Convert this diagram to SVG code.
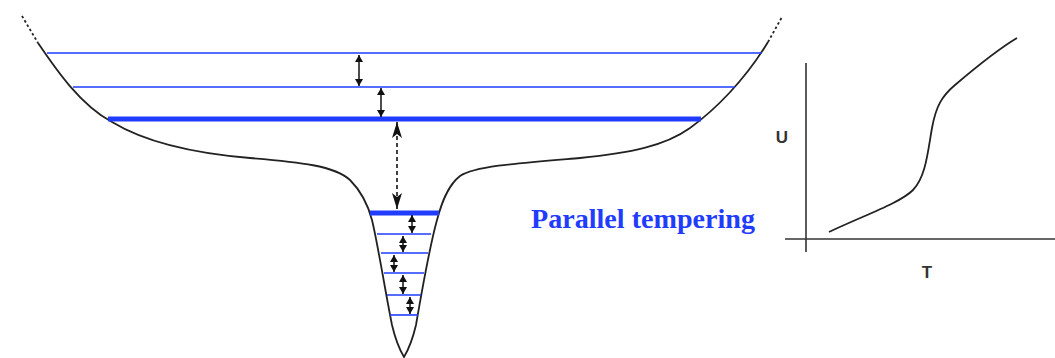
<svg xmlns="http://www.w3.org/2000/svg" width="1055" height="358" viewBox="0 0 1055 358">
<style>
.curve{fill:none;stroke:#222;stroke-width:1.8}
.dots{fill:none;stroke:#222;stroke-width:1.8;stroke-dasharray:2.5,2.5}
.lvl{stroke:#1f3cff;stroke-width:1.6}
.lvlb{stroke:#1f3cff;stroke-width:5}
.axis{stroke:#333;stroke-width:1.6}
.arr{stroke:#111;stroke-width:1.5;marker-start:url(#ah);marker-end:url(#ah)}
.darr{stroke:#111;stroke-width:1.6;stroke-dasharray:4,3;marker-start:url(#bh);marker-end:url(#bh)}
.lab{font-family:"Liberation Sans",Arial,sans-serif;font-weight:bold;font-size:17px;fill:#333}
.pt{font-family:"Liberation Serif","Times New Roman",serif;font-weight:bold;font-size:28px;fill:#1f3cff}
</style>
<defs>
<marker id="ah" viewBox="0 0 7 8" refX="7" refY="4" markerWidth="7" markerHeight="8" markerUnits="userSpaceOnUse" orient="auto-start-reverse"><path d="M0,0 L7,4 L0,8 z" fill="#111"/></marker>
<marker id="bh" viewBox="0 0 16 10" refX="16" refY="5" markerWidth="16" markerHeight="10" markerUnits="userSpaceOnUse" orient="auto-start-reverse"><path d="M0,0 L16,5 L0,10 L4,5 z" fill="#111"/></marker>
</defs>
<rect width="1055" height="358" fill="#fff"/>
<g id="landscape">
<path class="dots" d="M22,16 L38,43"/>
<path class="dots" d="M768,42 L782,17"/>
<path class="curve" d="M38,43 C55,68 80,105 112,122 C145,142 190,153 250,158 C300,162 335,166 350,180 C362,192 368,205 372,220 C378,245 385,290 392,325 C396,342 401,352 404,357 C407,352 412,342 416,325 C422,290 430,245 437,220 C441,205 447,186 460,176 C475,166 520,163 580,158 C630,153 665,146 690,128 C715,110 745,80 768,42"/>
</g>
<g id="levels">
<line class="lvl" x1="47" y1="53" x2="762" y2="53"/>
<line class="lvl" x1="73" y1="87" x2="735" y2="87"/>
<line class="lvlb" x1="108" y1="119" x2="701" y2="119"/>
<line class="lvlb" x1="370" y1="213" x2="439" y2="213"/>
<line class="lvl" x1="377" y1="234" x2="431" y2="234"/>
<line class="lvl" x1="381" y1="253" x2="428" y2="253"/>
<line class="lvl" x1="384" y1="273" x2="424" y2="273"/>
<line class="lvl" x1="387" y1="295" x2="421" y2="295"/>
<line class="lvl" x1="390" y1="315" x2="418" y2="315"/>
</g>
<g id="connectors">
<line class="arr" x1="359" y1="55" x2="359" y2="86"/>
<line class="arr" x1="381" y1="88" x2="381" y2="117"/>
<line class="darr" x1="397" y1="122" x2="397" y2="209"/>
<line class="arr" x1="412" y1="215" x2="412" y2="233"/>
<line class="arr" x1="403" y1="236" x2="403" y2="252"/>
<line class="arr" x1="394" y1="255" x2="394" y2="272"/>
<line class="arr" x1="403" y1="275" x2="403" y2="294"/>
<line class="arr" x1="410" y1="297" x2="410" y2="314"/>
</g>
<g id="label">
<text class="pt" x="531" y="228" textLength="224" lengthAdjust="spacingAndGlyphs">Parallel tempering</text>
</g>
<g id="graph">
<line class="axis" x1="806" y1="63" x2="806" y2="252"/>
<line class="axis" x1="785" y1="239" x2="1055" y2="239"/>
<path class="curve" stroke-width="1.6" d="M829,232 C865,215 900,203 913,190 C926,177 928,150 932,128 C936,106 942,96 955,85 C975,68 1000,48 1017,38"/>
<text class="lab" x="782" y="143" text-anchor="middle">U</text>
<text class="lab" x="927" y="278" text-anchor="middle">T</text>
</g>
</svg>
